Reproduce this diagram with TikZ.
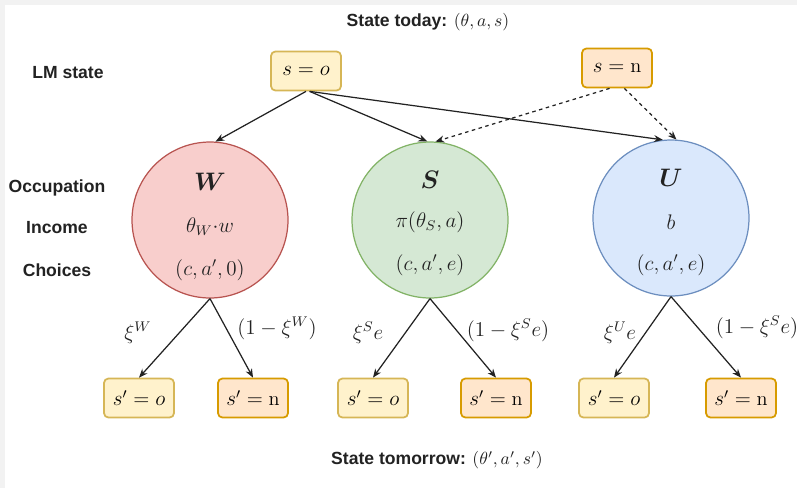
\documentclass[tikz,border=0pt]{standalone}
\usepackage{amsmath}
\usepackage{fontspec}
\setsansfont{Liberation Sans}
\usetikzlibrary{arrows.meta, positioning, calc}
\definecolor{Ink}    {HTML}{222222}
\definecolor{Frame}  {HTML}{F2F2F2}
\definecolor{OFill}  {HTML}{FFF2CC}
\definecolor{OGold}  {HTML}{D6B656}
\definecolor{NFill}  {HTML}{FFE6CC}
\definecolor{NOrange}{HTML}{D79B00}
\definecolor{WFill}  {HTML}{F8CECC}
\definecolor{WLine}  {HTML}{B85450}
\definecolor{SFill}  {HTML}{D5E8D4}
\definecolor{SLine}  {HTML}{82B366}
\definecolor{UFill}  {HTML}{DAE8FC}
\definecolor{ULine}  {HTML}{6C8EBF}
\tikzset{
  lbl/.style={font=\sffamily\bfseries\fontsize{10}{12}\selectfont, text=Ink},
  mth/.style={font=\fontsize{11.5}{14}\selectfont, text=Ink},
  arr/.style={-{Stealth[length=5pt,width=4pt]}, line width=0.7pt, draw=Ink}
}

\begin{document}
\begin{tikzpicture}[
  x=0.02cm, y=-0.02cm,
  ttl/.style={font=\fontsize{14}{16}\selectfont, text=Ink},
  occ/.style={circle, line width=0.7pt, minimum size=3.12cm, inner sep=0pt},
  stbox/.style={rounded corners=2.5pt, line width=1pt, minimum width=1.4cm,
                minimum height=0.78cm, inner sep=2pt,
                font=\fontsize{11.5}{14}\selectfont},
  oBox/.style={stbox, draw=OGold, fill=OFill},
  nBox/.style={stbox, draw=NOrange, fill=NFill},
  darr/.style={arr, dash pattern=on 2pt off 2pt}
]
  % frame
  \fill[Frame] (0,0) rectangle (797,488);
  \fill[white] (5,5) rectangle (797,488);
  \useasboundingbox (0,0) rectangle (797,488);

  % today
  \node[lbl] (today) at (428,22) {State today: $(\theta, a, s)$};
  \node[lbl] (lm)    at (68,73)  {LM state};
  \node[oBox] (lmO)  at (306,71) {$s = o$};
  \node[nBox] (lmN)  at (617,68) {$s = \mathrm{n}$};

  % row labels
  \node[lbl] (occLbl) at (57,188) {Occupation};
  \node[lbl] (incLbl) at (57,228) {Income};
  \node[lbl] (chLbl)  at (57,270) {Choices};

  % occupations
  \node[occ, draw=WLine, fill=WFill] (occW) at (210,220) {};
  \node[occ, draw=SLine, fill=SFill] (occS) at (430,220) {};
  \node[occ, draw=ULine, fill=UFill] (occU) at (671,218) {};

  \node[ttl] (wT)   at (210,182) {$\boldsymbol{W}$};
  \node[mth] (wInc) at (210,227) {$\theta_W{\cdot}w$};
  \node[mth] (wCh)  at (210,270) {$(c, a', 0)$};
  \node[ttl] (sT)   at (430,180) {$\boldsymbol{S}$};
  \node[mth] (sInc) at (430,222) {$\pi(\theta_S, a)$};
  \node[mth] (sCh)  at (430,265) {$(c, a', e)$};
  \node[ttl] (uT)   at (671,178) {$\boldsymbol{U}$};
  \node[mth] (uInc) at (671,222) {$b$};
  \node[mth] (uCh)  at (671,265) {$(c, a', e)$};

  \draw[arr] (lmO.south) -- (occW.86);
  \draw[arr] (lmO.-80)   -- (occS.92);
  \draw[arr] (lmO.-80)   -- (occU.96);
  \draw[darr] (lmN.250)  -- (occS.86);
  \draw[darr] (lmN.290)  -- (occU.86);

  % tomorrow
  \node[oBox] (wO) at (139,398) {$s' = o$};
  \node[nBox] (wN) at (253,398) {$s' = \mathrm{n}$};
  \node[oBox] (sO) at (373,398) {$s' = o$};
  \node[nBox] (sN) at (496,398) {$s' = \mathrm{n}$};
  \node[oBox] (uO) at (614,398) {$s' = o$};
  \node[nBox] (uN) at (741,398) {$s' = \mathrm{n}$};

  \draw[arr] (occW.south) -- (wO.north);
  \draw[arr] (occW.south) -- (wN.north);
  \draw[arr] (occS.south) -- (sO.north);
  \draw[arr] (occS.south) -- (sN.north);
  \draw[arr] (occU.south) -- (uO.north);
  \draw[arr] (occU.south) -- (uN.north);

  \node[mth] (pWo) at (138,333) {$\xi^W$};
  \node[mth] (pWn) at (277,328) {$(1 - \xi^W)$};
  \node[mth] (pSo) at (368,333) {$\xi^S e$};
  \node[mth] (pSn) at (508,330) {$(1 - \xi^S e)$};
  \node[mth] (pUo) at (620,333) {$\xi^U e$};
  \node[mth] (pUn) at (757,327) {$(1 - \xi^S e)$};

  \node[lbl] (tomorrow) at (437,460) {State tomorrow: $(\theta', a', s')$};
\end{tikzpicture}
\end{document}
